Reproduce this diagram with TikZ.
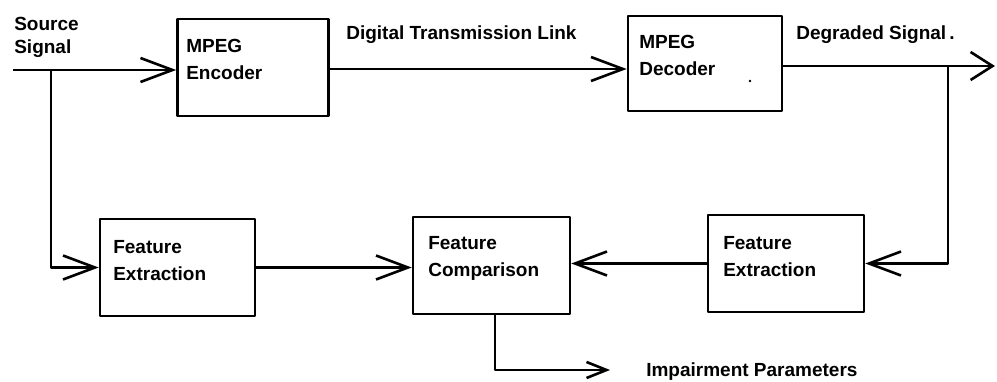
\documentclass[tikz,border=0pt]{standalone}
\usepackage{fontspec}
\setmainfont{Liberation Sans}
\usetikzlibrary{arrows.meta}
\begin{document}
\begin{tikzpicture}[x=1pt,y=-1pt,
  line width=2.6pt, line join=round,
  block/.style={draw, rectangle, inner sep=0pt},
  lbl/.style={inner sep=0pt, align=left, font=\bfseries\fontsize{19}{27}\selectfont},
  arr/.style={-{Straight Barb[length=32pt,width=24pt]}},
  arrshort/.style={-{Straight Barb[length=20pt,width=16pt]}},
  arrout/.style={-{Straight Barb[length=22pt,width=28pt]}}]
\useasboundingbox (0,0) rectangle (997,382);

% processing blocks
\node[block, minimum width=151pt, minimum height=97pt] (enc) at (253,67.5) {};
\node[block, minimum width=154pt, minimum height=95pt] (dec) at (705,63.5) {};
\node[block, minimum width=155pt, minimum height=97pt] (fe1) at (177.5,267.5) {};
\node[block, minimum width=157pt, minimum height=97pt] (cmp) at (491.5,265.5) {};
\node[block, minimum width=156pt, minimum height=97pt] (fe2) at (786,263.5) {};

% block captions
\node[lbl, anchor=west] (enc-t) at (185,59.5) {MPEG\\Encoder};
\node[lbl, anchor=west] (dec-t) at (638,55) {MPEG\\Decoder};
\node[lbl, anchor=west] (fe1-t) at (112,260.5) {Feature\\Extraction};
\node[lbl, anchor=west] (cmp-t) at (427,258) {Feature\\Comparison};
\node[lbl, anchor=west] (fe2-t) at (722,257) {Feature\\Extraction};

% signal labels
\node[lbl, anchor=west, font=\bfseries\fontsize{19}{23}\selectfont] (src-t) at (13,37.5) {Source\\Signal};
\node[lbl, anchor=base west] (link-t) at (345,40) {Digital Transmission Link};
\node[lbl, anchor=base west] (deg-t) at (795,40) {Degraded Signal\,.};
\node[lbl, anchor=base west] (imp-t) at (645,377) {Impairment Parameters};

% connector end points and branch points
\coordinate (src) at (13,70);
\coordinate (br1) at (51,70);
\coordinate (lnk) at (328,69);
\coordinate (deg) at (782,66);
\coordinate (out) at (995,66);
\coordinate (br2) at (948,66);
\coordinate (imp) at (610,370);

% signal path
\draw[arr] (src) -- (src -| enc.west);
\draw[arr] (lnk) -- (lnk -| dec.west);
\draw[arrout] (deg) -- (out);

% feature paths
\draw[arr] (br1) |- (fe1.west);
\draw[arr] (br2) |- (fe2.east);
\draw[arr] (fe1.east) -- (fe1.east -| cmp.west);
\draw[arr] (fe2.west) -- (fe2.west -| cmp.east);
\draw[arrshort] ([xshift=3.5pt]cmp.south) |- (imp);

% speck inside the decoder block
\fill (750,81) circle (1.3pt);
\end{tikzpicture}
\end{document}
